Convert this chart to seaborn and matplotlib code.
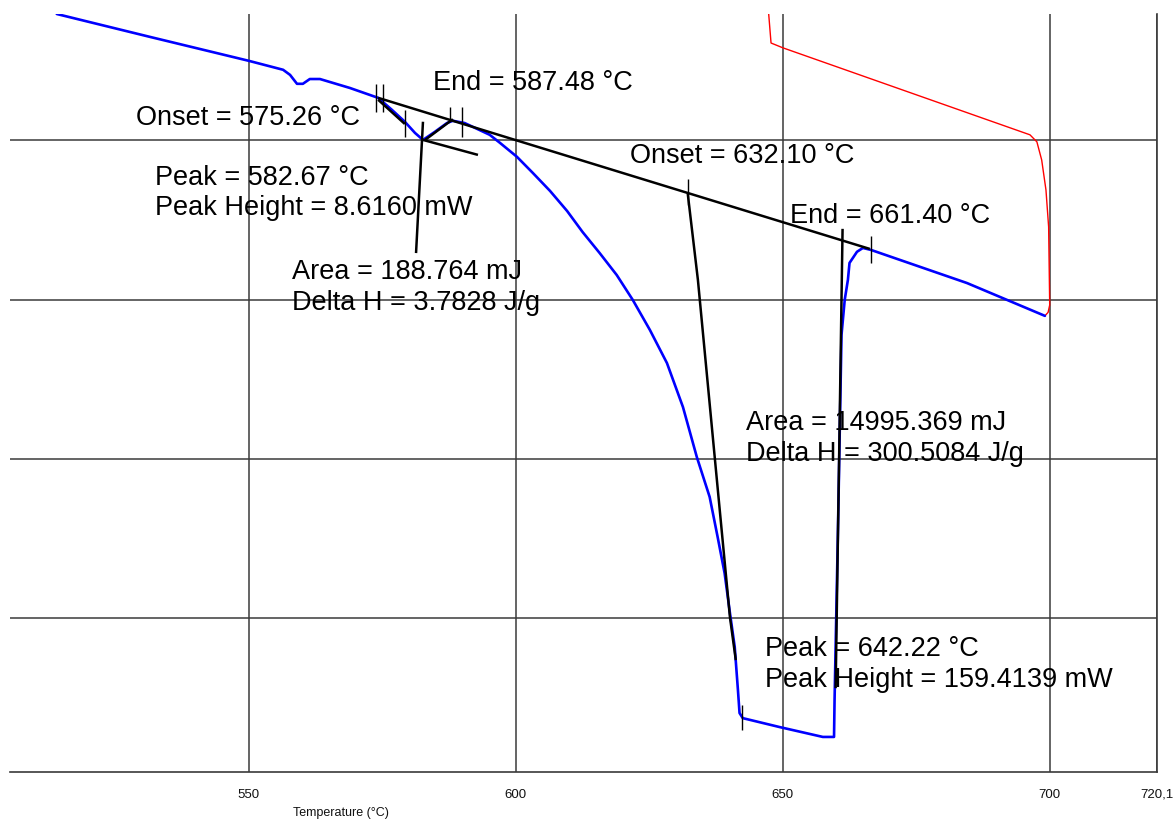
import numpy as np
import pandas as pd
import matplotlib
matplotlib.use("Agg")
import matplotlib.pyplot as plt
import seaborn as sns

# ---------------- data ----------------
# DSC heat-flow curve (blue): temperature in °C, heat flow in mW
blue_T = [514.0, 531.5, 550.0, 556.4, 557.7, 559.0, 560.1, 561.4, 563.3, 568.9,
          574.2, 576.8, 579.2, 581.1, 582.6, 584.8, 587.1, 588.2, 590.4, 595.1,
          597.0, 600.2, 603.2, 606.4, 609.6, 612.5, 615.7, 618.9, 621.9, 625.1,
          628.3, 631.3, 633.9, 636.3, 637.8, 639.1, 640.1, 641.0, 641.6, 641.9,
          642.5, 649.4, 657.5, 659.6, 659.7, 660.3, 661.0, 661.6, 662.2, 662.5,
          663.9, 665.0, 666.5, 684.5, 699.1]
blue_hf = [139.6, 132.4, 124.9, 122.1, 120.5, 117.7, 117.7, 119.2, 119.2, 116.4,
           113.3, 109.5, 105.8, 102.3, 100.1, 102.6, 105.4, 106.1, 105.4, 101.7,
           99.2, 94.8, 89.7, 84.1, 77.8, 71.2, 64.6, 57.7, 49.9, 40.5,
           30.1, 16.3, 0.6, -11.9, -24.5, -35.8, -48.3, -59.0, -72.5, -79.7,
           -81.3, -84.1, -87.2, -87.2, -75.6, -25.4, 38.9, 49.9, 56.2, 61.5,
           65.0, 66.2, 65.6, 55.2, 44.9]

# second trace (red)
red_T = [647.1, 647.8, 650.0, 696.3, 697.6, 698.5, 699.3, 699.8, 700.0, 699.7, 699.1]
red_hf = [145.0, 130.5, 129.0, 101.7, 99.5, 93.8, 84.4, 72.8, 48.3, 46.0, 44.9]

# analysis construction lines (black)
baseline_T, baseline_hf = [574.2, 666.3], [113.3, 65.9]
small_onset_T, small_onset_hf = [574.2, 579.2], [112.7, 105.1]
small_end_T, small_end_hf = [583.0, 588.2], [100.1, 106.6]
small_peak_T, small_peak_hf = [582.6, 592.9], [100.1, 95.4]
small_drop_T, small_drop_hf = [582.6, 581.3], [105.8, 64.6]
big_onset_T = [632.2, 634.1, 637.3, 640.1, 641.2]
big_onset_hf = [83.2, 56.2, -0.3, -49.6, -63.1]
big_end_T, big_end_hf = [661.2, 659.9], [72.2, -71.9]

# short vertical markers: temperature, low, high
marker_T = [573.8, 575.1, 579.2, 587.6, 589.9, 632.2, 642.3, 666.5]
marker_lo = [108.9, 108.9, 101.0, 106.4, 101.0, 79.7, -85.0, 61.5]
marker_hi = [117.7, 117.7, 109.5, 110.5, 110.5, 87.9, -77.2, 70.0]

# annotation texts
ann_texts = ["Onset = 575.26 °C", "End = 587.48 °C",
             "Peak = 582.67 °C", "Peak Height = 8.6160 mW",
             "Area = 188.764 mJ", "Delta H = 3.7828 J/g",
             "Onset = 632.10 °C", "End = 661.40 °C",
             "Area = 14995.369 mJ", "Delta H = 300.5084 J/g",
             "Peak = 642.22 °C", "Peak Height = 159.4139 mW"]
ann_T = [528.8, 584.5, 532.4, 532.4, 558.1, 558.1, 621.3, 651.3, 643.1, 643.1, 646.6, 646.6]
ann_hf = [104.8, 115.8, 86.0, 76.6, 56.5, 46.8, 92.9, 74.1, 9.1, -0.6, -61.8, -71.5]

xticks = [550, 600, 650, 700, 720.1]
xtick_labels = ["550", "600", "650", "700", "720,1"]
ygrid = [-50, 0, 50, 100]

# ---------------- plotting ----------------
sns.set_style("white")
plt.rcParams["font.family"] = ["Liberation Sans", "DejaVu Sans"]

W, H = 1176, 823
fig = plt.figure(figsize=(W / 100, H / 100), dpi=100)
ax = fig.add_axes([10 / W, 1 - 772 / H, (1157 - 10) / W, (772 - 14) / H])

grid_c = "#3a3a3a"
ax.set_xlim(505.24, 720.1)
ax.set_ylim(-98.2, 139.6)
ax.set_xticks(xticks)
ax.set_xticklabels(xtick_labels)
ax.set_yticks(ygrid)
ax.grid(True, color=grid_c, lw=1.1)
ax.set_axisbelow(True)
ax.tick_params(axis="y", length=0, labelleft=False)
ax.tick_params(axis="x", direction="out", length=3, width=1.0, color=grid_c,
               labelsize=9.5, pad=9, labelcolor="#111111")
for s in ["left", "top"]:
    ax.spines[s].set_visible(False)
for s in ["right", "bottom"]:
    ax.spines[s].set_visible(True)
    ax.spines[s].set_color(grid_c)
    ax.spines[s].set_linewidth(1.2)

df_blue = pd.DataFrame({"T": blue_T, "hf": blue_hf})
df_red = pd.DataFrame({"T": red_T, "hf": red_hf})
sns.lineplot(data=df_red, x="T", y="hf", sort=False, estimator=None,
             color="#ff0000", lw=1.0, ax=ax)
sns.lineplot(data=df_blue, x="T", y="hf", sort=False, estimator=None,
             color="#0000ff", lw=1.9, ax=ax)

blk = dict(color="black", lw=1.8, solid_capstyle="butt")
for xs, ys in [(baseline_T, baseline_hf), (small_onset_T, small_onset_hf),
               (small_end_T, small_end_hf), (small_peak_T, small_peak_hf),
               (small_drop_T, small_drop_hf), (big_onset_T, big_onset_hf),
               (big_end_T, big_end_hf)]:
    ax.plot(xs, ys, **blk)
ax.vlines(marker_T, marker_lo, marker_hi, color="black", lw=1.0)

for t, x, y in zip(ann_texts, ann_T, ann_hf):
    ax.text(x, y, t, fontsize=19.5, ha="left", va="baseline", color="black")

ax.set_xlabel("")
ax.set_ylabel("")
fig.text(341 / W, 1 - 813 / H, "Temperature (°C)", fontsize=9, ha="center",
         va="center", color="#111111")

fig.savefig("out.png", dpi=100)
